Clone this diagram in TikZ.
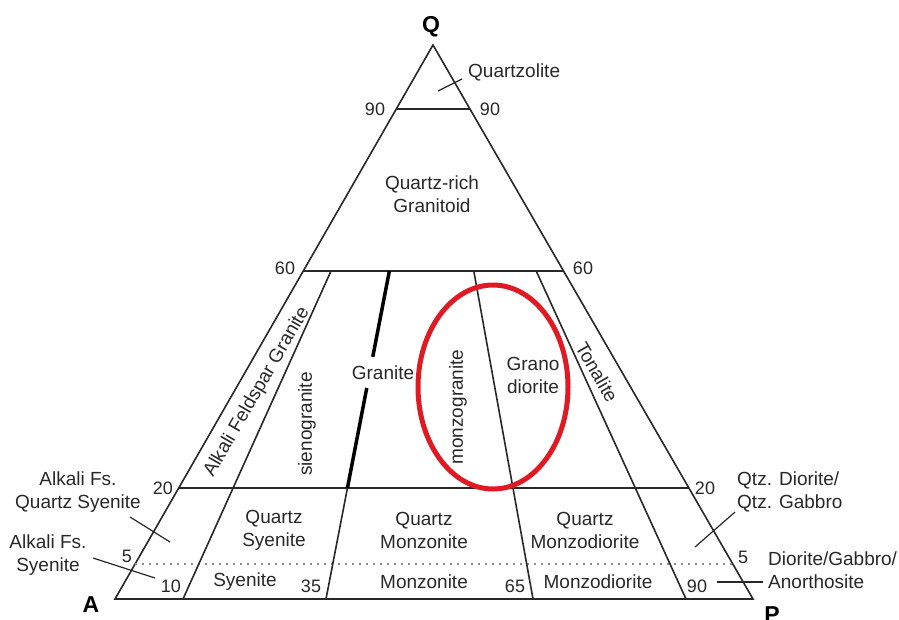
\documentclass[tikz,border=0pt]{standalone}
\usepackage{fontspec}
\setmainfont{Liberation Sans}
\usetikzlibrary{calc}
\definecolor{ink}{RGB}{40,40,40}
\definecolor{mark}{RGB}{225,25,35}
\begin{document}
\begin{tikzpicture}[x=1pt,y=-1pt,
  edge/.style={draw=ink,line width=1.6pt},
  lbl/.style={text=ink,font=\fontsize{19}{23}\selectfont,inner sep=0pt,align=center},
  rlbl/.style={text=ink,font=\fontsize{19}{23}\selectfont,inner sep=0pt},
  num/.style={text=ink,font=\fontsize{18}{20}\selectfont,inner sep=0pt},
  apex/.style={text=black,font=\bfseries\fontsize{23}{26}\selectfont,inner sep=0pt},
  tick/.style={draw=ink,line width=1.2pt},
  thick/.style={draw=black,line width=3.5pt},
  dotline/.style={draw=black!45,line width=1.5pt,dash pattern=on 1.5pt off 5.5pt},
  ring/.style={draw=mark,line width=5pt}
]
\useasboundingbox (0,0) rectangle (899,619);
\clip (0,0) rectangle (899,619);
% vertices
\coordinate (Q) at (433,45);
\coordinate (A) at (115,599);
\coordinate (P) at (753,599);
% horizontal levels
\coordinate (L90) at ($(A)!0.8845!(Q)$);
\coordinate (R90) at ($(P)!0.8845!(Q)$);
\coordinate (L60) at ($(A)!0.592!(Q)$);
\coordinate (R60) at ($(P)!0.592!(Q)$);
\coordinate (L20) at ($(A)!0.2004!(Q)$);
\coordinate (R20) at ($(P)!0.2004!(Q)$);
\coordinate (L5) at ($(A)!0.063!(Q)$);
\coordinate (R5) at ($(P)!0.063!(Q)$);
% base points of dividing lines
\coordinate (B10) at (183,599);
\coordinate (B35) at (326,599);
\coordinate (B65) at (533,599);
\coordinate (B90) at (686,599);
\coordinate (T10) at ($(B10)!0.592!(Q)$);
\coordinate (T35) at ($(B35)!0.592!(Q)$);
\coordinate (M35) at ($(B35)!0.2004!(Q)$);
\coordinate (G1) at ($(B35)!0.437!(Q)$);
\coordinate (G2) at ($(B35)!0.381!(Q)$);
\coordinate (T65) at ($(B65)!0.592!(Q)$);
\coordinate (T90) at ($(B90)!0.592!(Q)$);
% triangle and lines
\draw[edge] (A) -- (Q) -- (P) -- cycle;
\draw[edge] (L90) -- (R90);
\draw[edge] (L60) -- (R60);
\draw[edge] (L20) -- (R20);
\draw[dotline] (L5) -- (R5);
\draw[edge] (B10) -- (T10);
\draw[edge] (B35) -- (M35);
\draw[edge] (B65) -- (T65);
\draw[edge] (B90) -- (T90);
\draw[thick] (T35) -- (G1);
\draw[thick] (G2) -- (M35);
% apex labels
\node[apex] (lQ) at (431,27) {Q};
\node[apex] (lA) at (91,605) {A};
\node[apex] (lP) at (772,615) {P};
% numbers
\node[num] (n90l) at (375,109) {90};
\node[num] (n90r) at (490,109) {90};
\node[num] (n60l) at (285,268) {60};
\node[num] (n60r) at (583,268) {60};
\node[num] (n20l) at (163,488) {20};
\node[num] (n20r) at (705,488) {20};
\node[num] (n5l) at (127,556) {5};
\node[num] (n5r) at (743,557) {5};
\node[num] (n10) at (171,586) {10};
\node[num] (n35) at (311,586) {35};
\node[num] (n65) at (515,586) {65};
\node[num] (n90b) at (697,586) {90};
% field labels
\node[lbl,anchor=west] (quartzolite) at (468,72) {Quartzolite};
\node[lbl] (qrich) at (432,194) {Quartz-rich\\Granitoid};
\node[rlbl,rotate=60] (afg) at (257,392) {Alkali Feldspar Granite};
\node[rlbl,rotate=90] (sieno) at (307,424) {sienogranite};
\node[lbl] (granite) at (383,373) {Granite};
\node[rlbl,rotate=90] (monzo) at (458,407) {monzogranite};
\node[lbl] (grano) at (533,375) {Grano\\diorite};
\node[rlbl,rotate=-60] (tonal) at (597,372) {Tonalite};
\node[lbl] (afqs) at (78,492) {Alkali Fs.\\Quartz Syenite};
\node[lbl] (afs) at (48,555) {Alkali Fs.\\Syenite};
\node[lbl] (qsy) at (274,530) {Quartz\\Syenite};
\node[lbl] (qmz) at (424,530) {Quartz\\Monzonite};
\node[lbl] (qmzd) at (585,530) {Quartz\\Monzodiorite};
\node[lbl] (sy) at (245,582) {Syenite};
\node[lbl] (mz) at (424,582) {Monzonite};
\node[lbl] (mzd) at (598,582) {Monzodiorite};
\node[lbl,anchor=west,align=left] (qdg) at (737,492) {Qtz. Diorite/\\Qtz. Gabbro};
\node[lbl,anchor=west,align=left] (dga) at (768,570) {Diorite/Gabbro/\\Anorthosite};
% ticks
\coordinate (k1a) at (438,91); \coordinate (k1b) at (462,79);
\coordinate (k2a) at (130,517); \coordinate (k2b) at (170,542);
\coordinate (k3a) at (93,558); \coordinate (k3b) at (155,578);
\coordinate (k4a) at (695,547); \coordinate (k4b) at (735,512);
\coordinate (k5a) at (717,582); \coordinate (k5b) at (763,582);
\draw[tick] (k1a) -- (k1b);
\draw[tick] (k2a) -- (k2b);
\draw[tick] (k3a) -- (k3b);
\draw[tick] (k4a) -- (k4b);
\draw[tick] (k5a) -- (k5b);
% highlight
\draw[ring] (493,387) ellipse [x radius=75pt, y radius=102pt];
\end{tikzpicture}
\end{document}
